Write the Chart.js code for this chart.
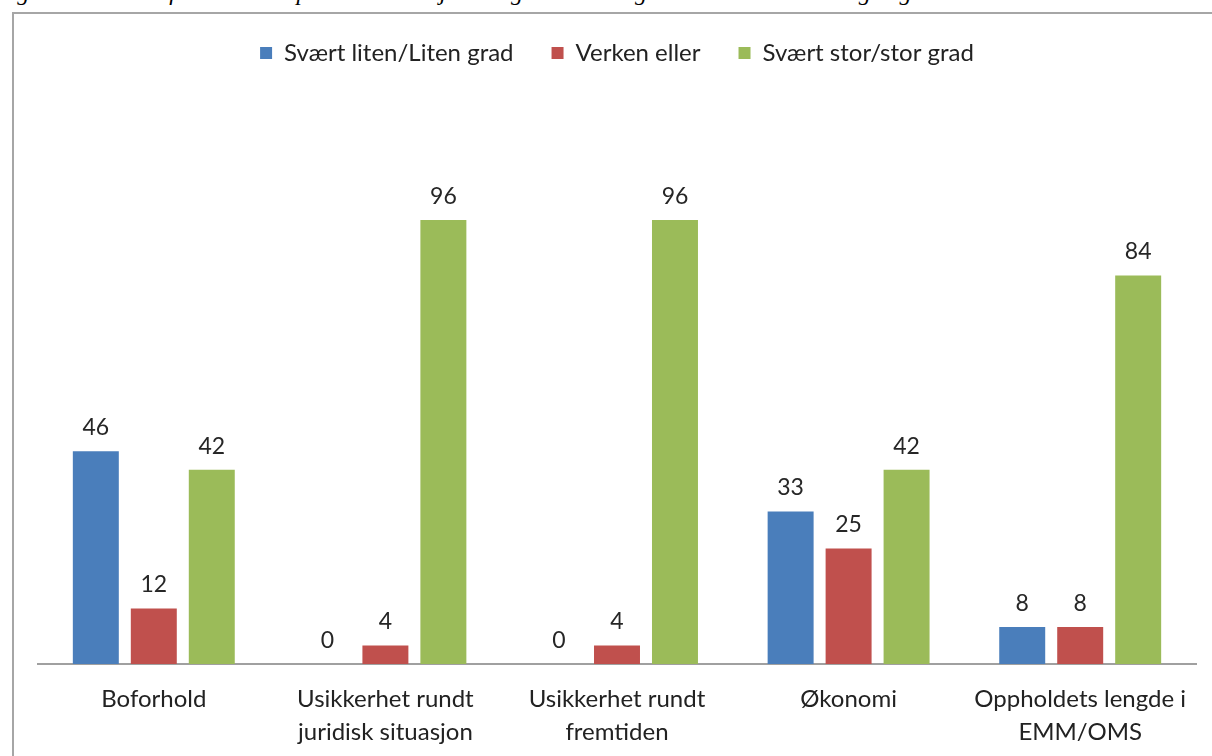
<!DOCTYPE html>
<html>
<head>
<meta charset="utf-8">
<script src="https://cdn.jsdelivr.net/npm/chart.js@4.4.1/dist/chart.umd.min.js"></script>
<style>
  html, body { margin: 0; padding: 0; background: #fff; overflow: hidden; }
  #caption {
    position: absolute; left: -4px; top: -21px; white-space: nowrap;
    font: italic 24px "Liberation Serif", serif; color: #000;
  }
  #frame {
    position: absolute; left: 12px; top: 12px; width: 1230px; height: 780px;
    border: 2px solid #a6a6a6; box-sizing: border-box;
  }
  #wrap { position: absolute; left: 0; top: 0; width: 1212px; height: 770px; }
</style>
</head>
<body>
<div id="caption">Figur 3.6: Hvilke faktorer som påvirker situasjonen og i hvor stor grad de bidrar til uro og negativt tankesett. Prosent</div>
<div id="frame"></div>
<div id="wrap"><canvas id="chartCanvas"></canvas></div>
<script>
const categories = [
  "Boforhold",
  ["Usikkerhet rundt", "juridisk situasjon"],
  ["Usikkerhet rundt", "fremtiden"],
  "Økonomi",
  ["Oppholdets lengde i", "EMM/OMS"]
];
const seriesNames = ["Svært liten/Liten grad", "Verken eller", "Svært stor/stor grad"];
const litenGrad = [46, 0, 0, 33, 8];
const verkenEller = [12, 4, 4, 25, 8];
const storGrad = [42, 96, 96, 42, 84];
const colors = ["#4a7ebb", "#c0504d", "#9bbb59"];

const FONT = "Lato, 'Open Sans', sans-serif";

// value labels above each bar
const barLabels = {
  id: "barLabels",
  afterDatasetsDraw(chart) {
    const ctx = chart.ctx;
    ctx.save();
    ctx.font = "23px " + FONT;
    ctx.fillStyle = "#262626";
    ctx.textAlign = "center";
    ctx.textBaseline = "bottom";
    chart.data.datasets.forEach((ds, i) => {
      chart.getDatasetMeta(i).data.forEach((bar, j) => {
        ctx.fillText(ds.data[j], bar.x, bar.y - 12);
      });
    });
    ctx.restore();
  }
};

// extra room between legend and bars
const legendGap = {
  id: "legendGap",
  beforeInit(chart) {
    const fit = chart.legend.fit;
    chart.legend.fit = function () {
      fit.bind(chart.legend)();
      this.height += 34;
    };
  }
};

new Chart(document.getElementById("chartCanvas"), {
  type: "bar",
  data: {
    labels: categories,
    datasets: [
      { label: seriesNames[0], data: litenGrad, backgroundColor: colors[0] },
      { label: seriesNames[1], data: verkenEller, backgroundColor: colors[1] },
      { label: seriesNames[2], data: storGrad, backgroundColor: colors[2] }
    ]
  },
  options: {
    responsive: true,
    maintainAspectRatio: false,
    animation: false,
    categoryPercentage: 0.751,
    barPercentage: 0.793,
    layout: { padding: { left: 38, right: 16, top: 3, bottom: 2 } },
    scales: {
      x: {
        grid: { display: false, drawTicks: false },
        border: { color: "#a0a0a0", width: 2 },
        ticks: {
          color: "#222",
          padding: 19,
          maxRotation: 0,
          font: { family: FONT, size: 24, lineHeight: 1.375 }
        }
      },
      y: {
        display: false,
        min: 0,
        max: 120
      }
    },
    plugins: {
      legend: {
        position: "top",
        labels: {
          color: "#222",
          boxWidth: 12,
          boxHeight: 12,
          padding: 38,
          font: { family: FONT, size: 24 }
        }
      },
      tooltip: { enabled: false }
    }
  },
  plugins: [barLabels, legendGap]
});
</script>
</body>
</html>
